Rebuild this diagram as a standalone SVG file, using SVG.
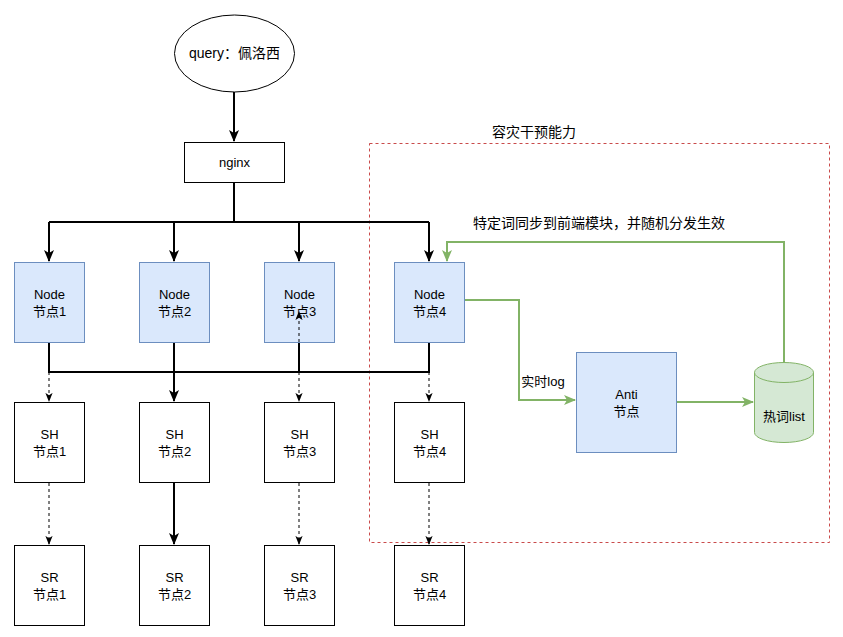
<svg xmlns="http://www.w3.org/2000/svg" width="843" height="637" viewBox="0 0 843 637">
<style>
text{font-family:"Liberation Sans","Noto Sans CJK SC",sans-serif;fill:#000;text-anchor:middle}
.t12{font-size:13px}
.t13{font-size:13px}
.t14{font-size:14px}
.blue{fill:#dae8fc;stroke:#6c8ebf;stroke-width:1}
.white{fill:#fff;stroke:#000;stroke-width:1}
.bold{fill:none;stroke:#000;stroke-width:2}
.dash{fill:none;stroke:#000;stroke-width:1;stroke-dasharray:3 3}
.green{fill:none;stroke:#82b366;stroke-width:2}
</style>
<defs>
<marker id="ab" markerUnits="userSpaceOnUse" viewBox="0 0 12 10" refX="11" refY="5" markerWidth="12" markerHeight="10" orient="auto"><path d="M0,0 L12,5 L0,10 L3,5 Z" fill="#000"/></marker>
<marker id="at" markerUnits="userSpaceOnUse" viewBox="0 0 10 8" refX="9" refY="4" markerWidth="9" markerHeight="8" orient="auto"><path d="M0,0 L10,4 L0,8 L2.500,4 Z" fill="#000"/></marker>
<marker id="ag" markerUnits="userSpaceOnUse" viewBox="0 0 12 10" refX="11" refY="5" markerWidth="12" markerHeight="10" orient="auto"><path d="M0,0 L12,5 L0,10 L3,5 Z" fill="#82b366"/></marker>
</defs>
<rect width="843" height="637" fill="#fff"/>

<g id="zone">
<rect x="369.500" y="143.500" width="460" height="399" fill="none" stroke="#c94a4a" stroke-width="1" stroke-dasharray="3 3"/>
<text class="t14" x="534" y="137">容灾干预能力</text>
</g>

<g id="query">
<ellipse cx="234.500" cy="53.500" rx="60" ry="38.500" fill="#fff" stroke="#000" stroke-width="1"/>
<text class="t14" x="234.500" y="58">query：佩洛西</text>
</g>
<g id="nginx">
<rect class="white" x="184.500" y="142.500" width="100" height="40"/>
<text class="t12" x="234.500" y="167">nginx</text>
</g>

<g id="node1"><rect class="blue" x="14.500" y="262.500" width="70" height="80"/><text class="t12" x="49.500" y="299">Node</text><text class="t12" x="49.500" y="316">节点1</text></g>
<g id="node2"><rect class="blue" x="139.500" y="262.500" width="70" height="80"/><text class="t12" x="174.500" y="299">Node</text><text class="t12" x="174.500" y="316">节点2</text></g>
<g id="node3"><rect class="blue" x="264.500" y="262.500" width="70" height="80"/><text class="t12" x="299.500" y="299">Node</text><text class="t12" x="299.500" y="316">节点3</text></g>
<g id="node4"><rect class="blue" x="394.500" y="262.500" width="70" height="80"/><text class="t12" x="429.500" y="299">Node</text><text class="t12" x="429.500" y="316">节点4</text></g>

<g id="sh1"><rect class="white" x="14.500" y="402.500" width="70" height="80"/><text class="t12" x="49.500" y="439">SH</text><text class="t12" x="49.500" y="456">节点1</text></g>
<g id="sh2"><rect class="white" x="139.500" y="402.500" width="70" height="80"/><text class="t12" x="174.500" y="439">SH</text><text class="t12" x="174.500" y="456">节点2</text></g>
<g id="sh3"><rect class="white" x="264.500" y="402.500" width="70" height="80"/><text class="t12" x="299.500" y="439">SH</text><text class="t12" x="299.500" y="456">节点3</text></g>
<g id="sh4"><rect class="white" x="394.500" y="402.500" width="70" height="80"/><text class="t12" x="429.500" y="439">SH</text><text class="t12" x="429.500" y="456">节点4</text></g>

<g id="sr1"><rect class="white" x="14.500" y="545.500" width="70" height="80"/><text class="t12" x="49.500" y="582">SR</text><text class="t12" x="49.500" y="599">节点1</text></g>
<g id="sr2"><rect class="white" x="139.500" y="545.500" width="70" height="80"/><text class="t12" x="174.500" y="582">SR</text><text class="t12" x="174.500" y="599">节点2</text></g>
<g id="sr3"><rect class="white" x="264.500" y="545.500" width="70" height="80"/><text class="t12" x="299.500" y="582">SR</text><text class="t12" x="299.500" y="599">节点3</text></g>
<g id="sr4"><rect class="white" x="394.500" y="545.500" width="70" height="80"/><text class="t12" x="429.500" y="582">SR</text><text class="t12" x="429.500" y="599">节点4</text></g>

<g id="anti"><rect class="blue" x="576.500" y="352.500" width="100" height="100"/><text class="t12" x="626.500" y="399">Anti</text><text class="t12" x="626.500" y="416">节点</text></g>

<g id="hotlist">
<path d="M754.500,372.500 A29.500,10 0 0 1 813.500,372.500 V432.500 A29.500,10 0 0 1 754.500,432.500 Z" fill="#d5e8d4" stroke="#82b366" stroke-width="1"/>
<path d="M754.500,372.500 A29.500,10 0 0 0 813.500,372.500" fill="none" stroke="#82b366" stroke-width="1"/>
<text class="t13" x="784" y="421">热词list</text>
</g>

<g id="connectors">
<path class="bold" d="M234,92 V141" marker-end="url(#ab)"/>
<path class="bold" d="M234,183 V222 M49,222 H429"/>
<path class="bold" d="M49,222 V261" marker-end="url(#ab)"/>
<path class="bold" d="M174,222 V261" marker-end="url(#ab)"/>
<path class="bold" d="M299,222 V261" marker-end="url(#ab)"/>
<path class="bold" d="M429,222 V261" marker-end="url(#ab)"/>
<path class="bold" d="M49,343 V372 M174,343 V372 M299,343 V372 M429,343 V372 M48,372 H430"/>
<path class="bold" d="M174,372 V401" marker-end="url(#ab)"/>
<path class="dash" d="M49,372 V401" marker-end="url(#at)"/>
<path class="dash" d="M299,372 V401" marker-end="url(#at)"/>
<path class="dash" d="M429,372 V401" marker-end="url(#at)"/>
<path class="dash" d="M299,342 V312" marker-end="url(#at)"/>
<path class="dash" d="M49,483 V544" marker-end="url(#at)"/>
<path class="bold" d="M174,483 V544" marker-end="url(#ab)"/>
<path class="dash" d="M299,483 V544" marker-end="url(#at)"/>
<path class="dash" d="M429,483 V544" marker-end="url(#at)"/>
<path class="green" d="M465,300 H519 V400 H575" marker-end="url(#ag)"/>
<text class="t13" x="543" y="386">实时log</text>
<path class="green" d="M677,402 H753" marker-end="url(#ag)"/>
<path class="green" d="M784,363 V242 H447 V261" marker-end="url(#ag)"/>
<text class="t14" x="599" y="228">特定词同步到前端模块，并随机分发生效</text>
</g>
</svg>
